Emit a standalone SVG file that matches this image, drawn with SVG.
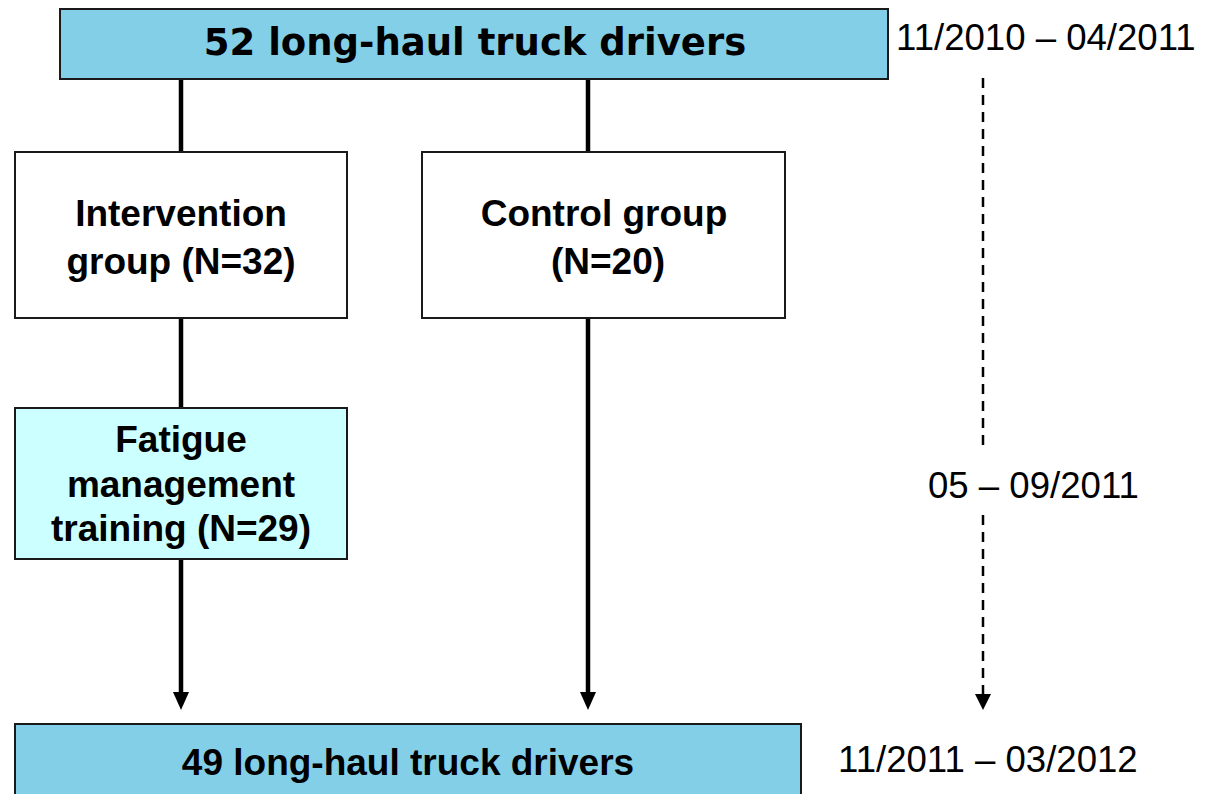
<svg xmlns="http://www.w3.org/2000/svg" width="1205" height="794" viewBox="0 0 1205 794">
  <defs>
    <style>
      .box { stroke: #1a1a1a; stroke-width: 2; }
      .blue { fill: #83CFE8; }
      .cyan { fill: #CCFFFF; }
      .white { fill: #FFFFFF; }
      .lbl { font-family: "Liberation Sans", Arial, sans-serif; font-weight: bold; font-size: 37px; fill: #000; text-anchor: middle; }
      .title { font-family: "DejaVu Sans", Verdana, sans-serif; font-weight: bold; font-size: 37px; fill: #000; text-anchor: middle; }
      .date { font-family: "Liberation Sans", Arial, sans-serif; font-size: 36.6px; fill: #000; }
      .flow { stroke: #000; stroke-width: 4.5; fill: none; }
      .time { stroke: #000; stroke-width: 2.5; fill: none; stroke-dasharray: 10 7; }
    </style>
  </defs>

  <rect width="1205" height="794" fill="#FFFFFF"/>

  <!-- connectors -->
  <g id="connectors">
    <line class="flow" x1="181" y1="76" x2="181" y2="152"/>
    <line class="flow" x1="588" y1="79" x2="588" y2="152"/>
    <line class="flow" x1="181" y1="318" x2="181" y2="408"/>
    <path class="flow" d="M181,559 V692"/>
    <polygon points="173,692 189,692 181,710" fill="#000"/>
    <path class="flow" d="M588,318 V692"/>
    <polygon points="580,692 596,692 588,710" fill="#000"/>
    <line class="time" x1="983" y1="78" x2="983" y2="450"/>
    <path class="time" d="M983,515 V694"/>
    <polygon points="975,694 991,694 983,710" fill="#000"/>
  </g>

  <!-- recruitment -->
  <g id="node-start">
    <rect class="box blue" x="60" y="9" width="828" height="70"/>
    <text class="title" x="475" y="55">52 long-haul truck drivers</text>
  </g>

  <g id="node-intervention">
    <rect class="box white" x="15" y="152" width="332" height="166"/>
    <text class="lbl" x="181" y="226">Intervention</text>
    <text class="lbl" x="181" y="274">group (N=32)</text>
  </g>

  <g id="node-control">
    <rect class="box white" x="422" y="152" width="363" height="166"/>
    <text class="lbl" x="604" y="226">Control group</text>
    <text class="lbl" x="608" y="274">(N=20)</text>
  </g>

  <g id="node-training">
    <rect class="box cyan" x="15" y="408" width="332" height="151"/>
    <text class="lbl" x="181" y="452">Fatigue</text>
    <text class="lbl" x="181" y="497">management</text>
    <text class="lbl" x="181" y="541">training (N=29)</text>
  </g>

  <g id="node-end">
    <rect class="box blue" x="15" y="724" width="786" height="80"/>
    <text class="lbl" x="408" y="775">49 long-haul truck drivers</text>
  </g>

  <!-- timeline -->
  <g id="timeline-labels">
    <text class="date" x="896" y="50">11/2010 – 04/2011</text>
    <text class="date" x="928" y="498">05 – 09/2011</text>
    <text class="date" x="838" y="772">11/2011 – 03/2012</text>
  </g>
</svg>
